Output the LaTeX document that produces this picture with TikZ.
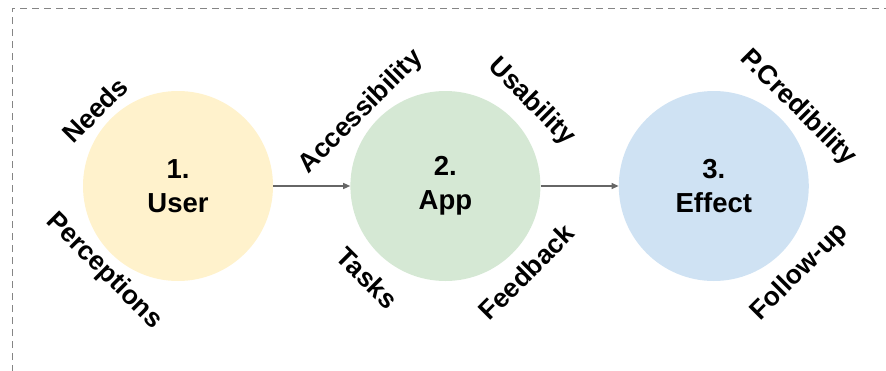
\documentclass[tikz,border=0pt]{standalone}
\usepackage{fontspec}
\setmainfont{Liberation Sans}
\usepackage{xcolor}
\usetikzlibrary{calc, positioning, arrows.meta}
\definecolor{useryellow}{HTML}{FFF2CC}
\definecolor{appgreen}{HTML}{D5E8D4}
\definecolor{effectblue}{HTML}{CFE2F3}
\definecolor{edgegray}{HTML}{666666}
\tikzset{
  stage/.style={circle, minimum size=190pt, inner sep=0pt, align=center,
    font=\fontsize{27.5}{34}\selectfont\bfseries},
  aspect/.style={font=\fontsize{26.5}{30}\selectfont\bfseries, inner sep=0pt},
  flow/.style={-{Triangle[length=7pt,width=6pt]}, draw=edgegray, line width=1.2pt}
}

\begin{document}
\begin{tikzpicture}
              [x=1pt, y=-1pt]
              \useasboundingbox (0,0) rectangle (886,370);
              % frame %
              \draw[edgegray!80, line width=1pt, dash pattern=on 7pt off 5pt]
                (12,372) -- (12,8) -- (888,8);

              % nodes %
              \node[stage, fill=useryellow] (user) at (178,186) {1.\\User};
              \node[stage, fill=appgreen, right=77pt of user] (app) {2.\\App};
              \node[stage, fill=effectblue, right=78pt of app] (effect) {3.\\Effect};

              \node[aspect, rotate=45] (needs) at ($(user)+(-83,-76)$) {Needs};
              \node[aspect, rotate=-45] (perceptions) at ($(user)+(-74,85)$) {Perceptions};
              \node[aspect, rotate=45] (access) at ($(app)+(-84,-74)$) {Accessibility};
              \node[aspect, rotate=-45] (tasks) at ($(app)+(-78,92)$) {Tasks};
              \node[aspect, rotate=-45] (usability) at ($(app)+(86,-84)$) {Usability};
              \node[aspect, rotate=45] (feedback) at ($(app)+(81,86)$) {Feedback};
              \node[aspect, rotate=-45] (credibility) at ($(effect)+(84,-78)$) {P.Credibility};
              \node[aspect, rotate=45] (followup) at ($(effect)+(86,86)$) {Follow-up};

              % edges %
              \draw[flow] (user) -- (app);
              \draw[flow] (app) -- (effect);
            \end{tikzpicture}
\end{document}
